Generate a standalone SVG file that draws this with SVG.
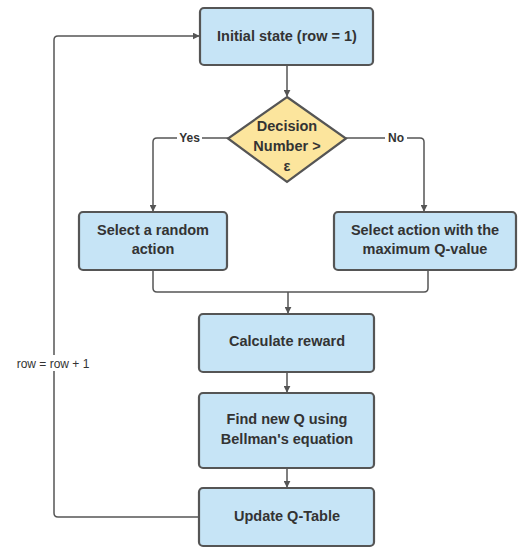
<svg xmlns="http://www.w3.org/2000/svg" width="522" height="549" viewBox="0 0 522 549">
<style>
.box{fill:#c6e4f6;stroke:#555;stroke-width:2.2}
.dia{fill:#fce59d;stroke:#555;stroke-width:2.2}
.t{font-family:"Liberation Sans",Arial,sans-serif;font-size:14.5px;font-weight:bold;fill:#333;text-anchor:middle}
.lbl{font-family:"Liberation Sans",Arial,sans-serif;font-size:12px;fill:#333;text-anchor:middle}
.c{fill:none;stroke:#555;stroke-width:1.5}
</style>
<defs>
<marker id="ah" viewBox="0 0 10 10" refX="9" refY="5" markerWidth="7" markerHeight="7" markerUnits="userSpaceOnUse" orient="auto">
<path d="M0,0 L10,5 L0,10 z" fill="#555"/>
</marker>
</defs>
<rect width="522" height="549" fill="#fff"/>
<g id="connectors">
<path class="c" d="M287,65 V96" marker-end="url(#ah)"/>
<path class="c" d="M228,138 H157 Q153,138 153,142 V211" marker-end="url(#ah)"/>
<path class="c" d="M346,138 H420 Q424,138 424,142 V211" marker-end="url(#ah)"/>
<path class="c" d="M153,270 V288 Q153,292 157,292 H424 Q428,292 428,288 V270"/>
<path class="c" d="M288,292 V313" marker-end="url(#ah)"/>
<path class="c" d="M287,372 V392" marker-end="url(#ah)"/>
<path class="c" d="M287,468 V487" marker-end="url(#ah)"/>
<path class="c" d="M199,517 H58 Q54,517 54,513 V40 Q54,36 58,36 H199" marker-end="url(#ah)"/>
<rect x="177" y="131" width="25" height="14" fill="#fff"/>
<text class="lbl" x="189.5" y="142" font-weight="bold">Yes</text>
<rect x="385" y="131" width="22" height="14" fill="#fff"/>
<text class="lbl" x="396" y="142" font-weight="bold">No</text>
<rect x="14" y="355" width="78" height="16" fill="#fff"/>
<text class="lbl" x="53" y="368">row = row + 1</text>
</g>
<g id="initial">
<rect class="box" x="200" y="8" width="173" height="57" rx="4"/>
<text class="t" x="287" y="41">Initial state (row = 1)</text>
</g>
<g id="decision">
<path class="dia" d="M287,97 L346,138.5 L287,182 L228,138.5 Z"/>
<text class="t" x="287" y="131">Decision</text>
<text class="t" x="287" y="151">Number &gt;</text>
<text class="t" x="287" y="171">ε</text>
</g>
<g id="random">
<rect class="box" x="79" y="212" width="148" height="58" rx="4"/>
<text class="t" x="153" y="235">Select a random</text>
<text class="t" x="153" y="254">action</text>
</g>
<g id="maxq">
<rect class="box" x="334" y="212" width="182" height="58" rx="4"/>
<text class="t" x="425" y="235">Select action with the</text>
<text class="t" x="425" y="254">maximum Q-value</text>
</g>
<g id="reward">
<rect class="box" x="199" y="314" width="175" height="58" rx="4"/>
<text class="t" x="287" y="346">Calculate reward</text>
</g>
<g id="bellman">
<rect class="box" x="199" y="393" width="175" height="75" rx="4"/>
<text class="t" x="287" y="424">Find new Q using</text>
<text class="t" x="287" y="444">Bellman's equation</text>
</g>
<g id="update">
<rect class="box" x="199" y="488" width="175" height="58" rx="4"/>
<text class="t" x="287" y="521">Update Q-Table</text>
</g>
</svg>
